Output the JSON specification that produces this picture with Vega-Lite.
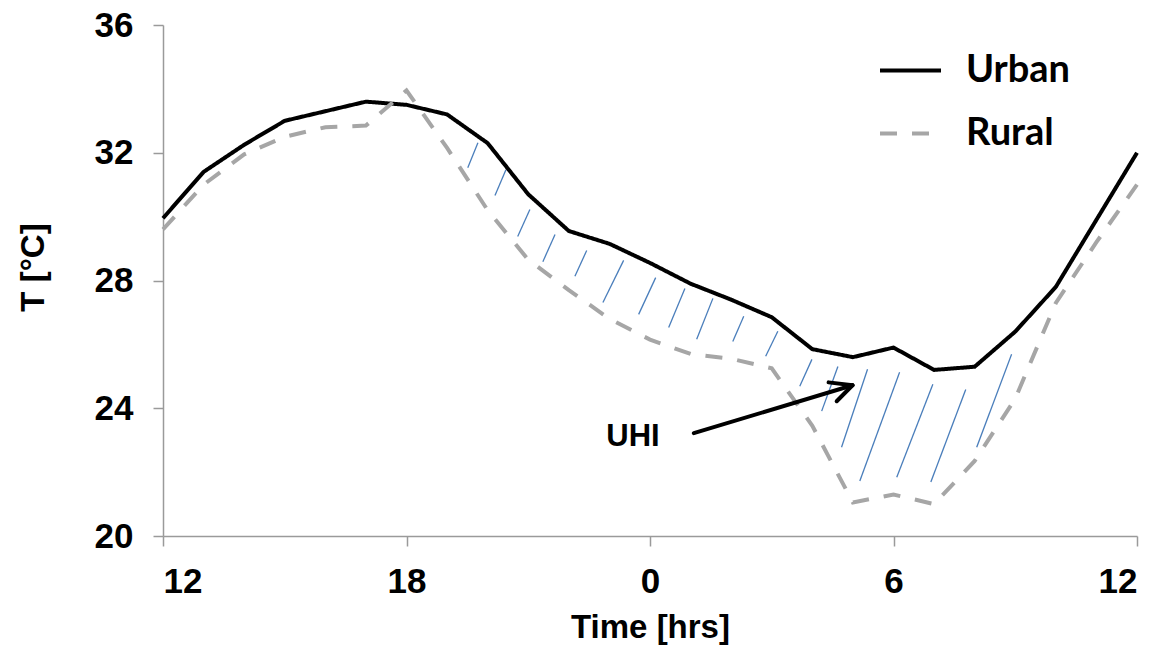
{
  "$schema": "https://vega.github.io/schema/vega-lite/v6.json",
  "width": 974,
  "height": 511,
  "autosize": {"type": "none"},
  "padding": {"left": 163, "top": 25, "right": 22, "bottom": 110},
  "background": "white",
  "config": {
    "view": {"stroke": null},
    "axis": {
      "grid": false,
      "domainColor": "#9a9a9a",
      "domainWidth": 1.5,
      "tickColor": "#9a9a9a",
      "tickWidth": 1.5,
      "tickSize": 10,
      "labelFont": "Liberation Sans",
      "labelFontWeight": "bold",
      "labelFontSize": 35,
      "labelColor": "black",
      "titleFont": "Liberation Sans",
      "titleFontWeight": "bold",
      "titleFontSize": 33,
      "titleColor": "black"
    },
    "legend": {
      "title": null,
      "orient": "none",
      "legendX": 715,
      "legendY": 13,
      "padding": 0,
      "rowPadding": 11,
      "symbolType": "stroke",
      "symbolSize": 3721,
      "symbolStrokeWidth": 4,
      "labelFont": "Lato",
      "labelFontWeight": "bold",
      "labelFontSize": 38,
      "labelColor": "black",
      "labelOffset": 23
    }
  },
  "datasets": {
    "temps": [
      {"hour": 0, "series": "Urban", "temp": 29.95},
      {"hour": 1, "series": "Urban", "temp": 31.4},
      {"hour": 2, "series": "Urban", "temp": 32.25},
      {"hour": 3, "series": "Urban", "temp": 33.0},
      {"hour": 4, "series": "Urban", "temp": 33.3},
      {"hour": 5, "series": "Urban", "temp": 33.6},
      {"hour": 6, "series": "Urban", "temp": 33.5},
      {"hour": 7, "series": "Urban", "temp": 33.2},
      {"hour": 8, "series": "Urban", "temp": 32.3},
      {"hour": 9, "series": "Urban", "temp": 30.7},
      {"hour": 10, "series": "Urban", "temp": 29.55},
      {"hour": 11, "series": "Urban", "temp": 29.15},
      {"hour": 12, "series": "Urban", "temp": 28.55},
      {"hour": 13, "series": "Urban", "temp": 27.9},
      {"hour": 14, "series": "Urban", "temp": 27.4},
      {"hour": 15, "series": "Urban", "temp": 26.85},
      {"hour": 16, "series": "Urban", "temp": 25.85},
      {"hour": 17, "series": "Urban", "temp": 25.6},
      {"hour": 18, "series": "Urban", "temp": 25.9},
      {"hour": 19, "series": "Urban", "temp": 25.2},
      {"hour": 20, "series": "Urban", "temp": 25.3},
      {"hour": 21, "series": "Urban", "temp": 26.4},
      {"hour": 22, "series": "Urban", "temp": 27.8},
      {"hour": 23, "series": "Urban", "temp": 29.9},
      {"hour": 24, "series": "Urban", "temp": 32.0},
      {"hour": 0, "series": "Rural", "temp": 29.6},
      {"hour": 1, "series": "Rural", "temp": 31.0},
      {"hour": 2, "series": "Rural", "temp": 31.95},
      {"hour": 3, "series": "Rural", "temp": 32.5},
      {"hour": 4, "series": "Rural", "temp": 32.8},
      {"hour": 5, "series": "Rural", "temp": 32.85},
      {"hour": 6, "series": "Rural", "temp": 33.95},
      {"hour": 7, "series": "Rural", "temp": 32.15},
      {"hour": 8, "series": "Rural", "temp": 30.2},
      {"hour": 9, "series": "Rural", "temp": 28.65},
      {"hour": 10, "series": "Rural", "temp": 27.7},
      {"hour": 11, "series": "Rural", "temp": 26.8},
      {"hour": 12, "series": "Rural", "temp": 26.15},
      {"hour": 13, "series": "Rural", "temp": 25.7},
      {"hour": 14, "series": "Rural", "temp": 25.55},
      {"hour": 15, "series": "Rural", "temp": 25.25},
      {"hour": 16, "series": "Rural", "temp": 23.45},
      {"hour": 17, "series": "Rural", "temp": 21.05},
      {"hour": 18, "series": "Rural", "temp": 21.3},
      {"hour": 19, "series": "Rural", "temp": 21.0},
      {"hour": 20, "series": "Rural", "temp": 22.35},
      {"hour": 21, "series": "Rural", "temp": 24.3},
      {"hour": 22, "series": "Rural", "temp": 27.3},
      {"hour": 23, "series": "Rural", "temp": 29.2},
      {"hour": 24, "series": "Rural", "temp": 31.0}
    ],
    "hatch": [
      {"h1": 7.76, "t1": 32.31, "h2": 7.51, "t2": 31.53},
      {"h1": 8.45, "t1": 31.47, "h2": 8.18, "t2": 30.66},
      {"h1": 9.04, "t1": 30.22, "h2": 8.74, "t2": 29.38},
      {"h1": 9.66, "t1": 29.44, "h2": 9.36, "t2": 28.59},
      {"h1": 10.44, "t1": 28.94, "h2": 10.15, "t2": 28.13},
      {"h1": 11.35, "t1": 28.63, "h2": 10.84, "t2": 27.31},
      {"h1": 12.14, "t1": 28.09, "h2": 11.72, "t2": 26.94},
      {"h1": 12.86, "t1": 27.75, "h2": 12.46, "t2": 26.53},
      {"h1": 13.55, "t1": 27.44, "h2": 13.15, "t2": 26.16},
      {"h1": 14.31, "t1": 26.88, "h2": 14.04, "t2": 26.09},
      {"h1": 15.15, "t1": 26.41, "h2": 14.85, "t2": 25.63},
      {"h1": 15.99, "t1": 25.53, "h2": 15.69, "t2": 24.69},
      {"h1": 16.63, "t1": 25.31, "h2": 16.23, "t2": 23.91},
      {"h1": 17.36, "t1": 25.22, "h2": 16.72, "t2": 22.78},
      {"h1": 18.15, "t1": 25.13, "h2": 17.17, "t2": 21.72},
      {"h1": 18.97, "t1": 24.75, "h2": 18.08, "t2": 21.84},
      {"h1": 19.78, "t1": 24.59, "h2": 18.92, "t2": 21.69},
      {"h1": 20.91, "t1": 25.69, "h2": 20.05, "t2": 22.78}
    ],
    "arrow": [
      {"h1": 13.08, "t1": 23.22, "h2": 16.99, "t2": 24.72},
      {"h1": 16.40, "t1": 24.81, "h2": 16.99, "t2": 24.72},
      {"h1": 16.60, "t1": 24.22, "h2": 16.99, "t2": 24.72}
    ],
    "labels": [
      {"h": 11.58, "t": 23.09, "text": "UHI"}
    ]
  },
  "layer": [
    {
      "data": {"name": "hatch"},
      "mark": {"type": "rule", "color": "#4a7ebb", "strokeWidth": 1.3},
      "encoding": {
        "x": {"field": "h1", "type": "quantitative", "scale": {"domain": [0, 24], "nice": false}},
        "y": {"field": "t1", "type": "quantitative", "scale": {"domain": [20, 36], "nice": false}},
        "x2": {"field": "h2"},
        "y2": {"field": "t2"}
      }
    },
    {
      "data": {"name": "temps"},
      "mark": {"type": "line", "strokeWidth": 4, "strokeJoin": "miter"},
      "encoding": {
        "x": {
          "field": "hour", "type": "quantitative",
          "scale": {"domain": [0, 24], "nice": false},
          "axis": {
            "title": "Time [hrs]",
            "values": [0, 6, 12, 18, 24],
            "labelExpr": "(datum.value + 12) % 24",
            "labelPadding": 18,
            "titleY": 101,
            "titleBaseline": "alphabetic"
          }
        },
        "y": {
          "field": "temp", "type": "quantitative",
          "scale": {"domain": [20, 36], "nice": false},
          "axis": {
            "title": "T [°C]",
            "values": [20, 24, 28, 32, 36],
            "labelPadding": 20,
            "titleX": -120,
            "titleY": 242,
            "titleAngle": -90,
            "titleAlign": "center",
            "titleBaseline": "alphabetic"
          }
        },
        "color": {
          "field": "series", "type": "nominal",
          "scale": {"domain": ["Urban", "Rural"], "range": ["#000000", "#a6a6a6"]},
          "legend": {"title": null}
        },
        "strokeDash": {
          "field": "series", "type": "nominal",
          "scale": {"domain": ["Urban", "Rural"], "range": [[1, 0], [17, 15]]},
          "legend": {"title": null}
        }
      }
    },
    {
      "data": {"name": "arrow"},
      "mark": {"type": "rule", "color": "black", "strokeWidth": 4, "strokeCap": "round"},
      "encoding": {
        "x": {"field": "h1", "type": "quantitative"},
        "y": {"field": "t1", "type": "quantitative"},
        "x2": {"field": "h2"},
        "y2": {"field": "t2"}
      }
    },
    {
      "data": {"name": "labels"},
      "mark": {"type": "text", "font": "Liberation Sans", "fontWeight": "bold", "fontSize": 31, "align": "center", "baseline": "middle", "color": "black"},
      "encoding": {
        "x": {"field": "h", "type": "quantitative"},
        "y": {"field": "t", "type": "quantitative"},
        "text": {"field": "text"}
      }
    }
  ]
}
